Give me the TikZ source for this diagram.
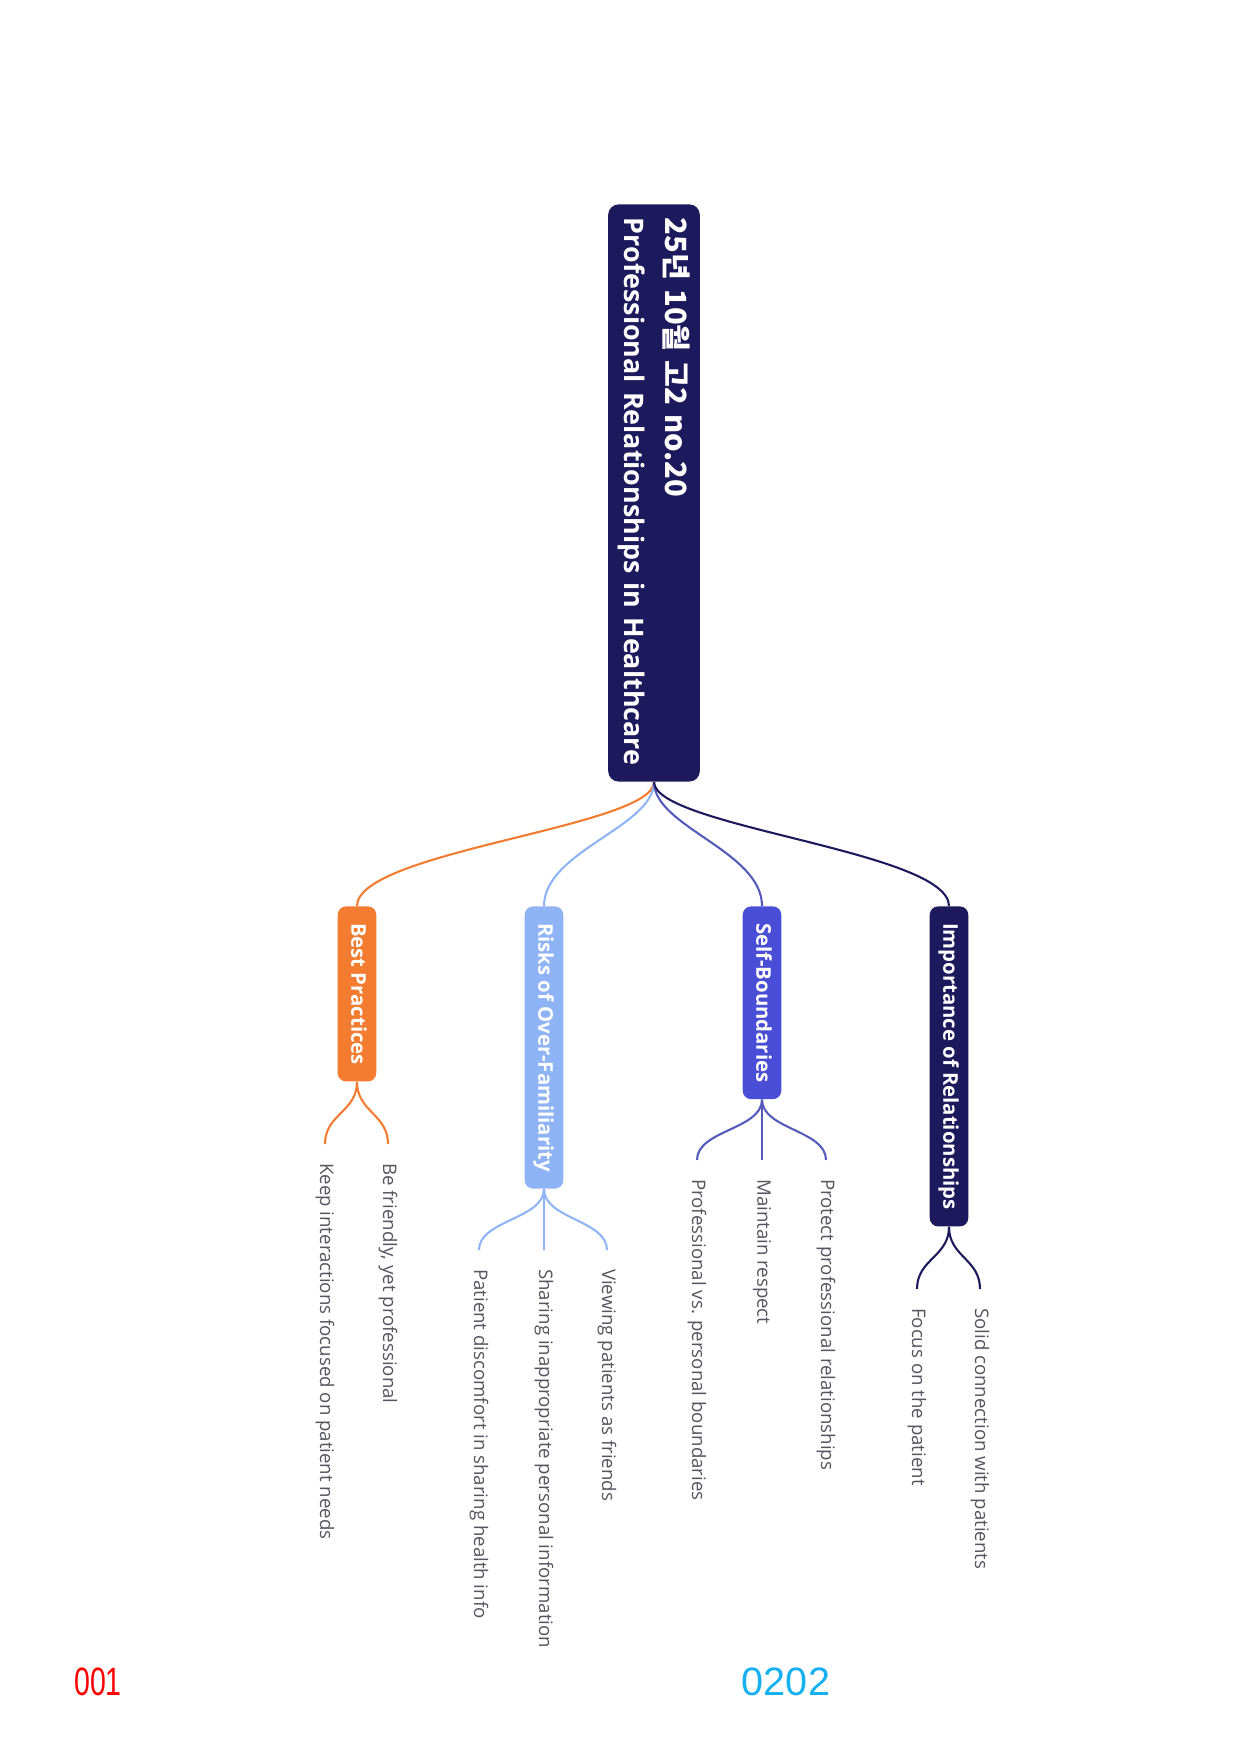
\documentclass[tikz,border=0pt]{standalone}
\usepackage{fontspec}
\setmainfont{Open Sans}
\newfontfamily\krfont{Noto Sans CJK KR}
\newfontfamily\tagfont{Liberation Sans}
\usepackage{tikz}
\usetikzlibrary{
  arrows.meta,
  positioning
}
\definecolor{mapnavy}{RGB}{28,26,92}
\definecolor{maporange}{RGB}{244,124,48}
\definecolor{mapsky}{RGB}{143,180,245}
\definecolor{mapblue}{RGB}{74,78,214}
\definecolor{mapblueline}{RGB}{84,90,186}
\definecolor{leafgray}{RGB}{85,85,95}
\definecolor{tagred}{RGB}{255,0,0}
\definecolor{tagcyan}{RGB}{20,176,240}

\tikzset{
  rootbox/.style={rotate=-90, anchor=west, fill=mapnavy, text=white,
    rounded corners=5pt, align=left, text width=264pt, inner xsep=6.5pt,
    minimum height=44pt, font=\bfseries\fontsize{12.9}{20}\selectfont},
  branchbox/.style={rotate=-90, anchor=west, fill=#1, text=white,
    rounded corners=4pt, minimum height=18.5pt, inner xsep=8pt,
    text height=7.3pt, text depth=2pt, font=\bfseries\fontsize{9.75}{11}\selectfont},
  leaf/.style={rotate=-90, anchor=west, text=leafgray, inner xsep=9pt,
    inner ysep=2pt, font=\fontsize{8.95}{10}\selectfont},
  link/.style={line width=1pt, draw=#1},
  tag/.style={font=\tagfont\fontsize{19}{22}\selectfont}
}

\begin{document}
\begin{tikzpicture}[x=0.48pt, y=-0.48pt]
  \useasboundingbox (0,0) rectangle (1241,1755);

  %% Central topic
  \node[rootbox] (root) at (654,204)
    {{\krfont\fontsize{14}{20}\selectfont 25년 10월 고2 no.20}\\Professional Relationships in Healthcare};

  %% Main branches
  \node[branchbox=maporange] (best) at (357,906) {Best Practices};
  \node[branchbox=mapsky] (risks) at (544,906) {Risks of Over-Familiarity};
  \node[branchbox=mapblue] (self) at (762,906) {Self-Boundaries};
  \node[branchbox=mapnavy] (importance) at (949,906) {Importance of Relationships};

  \draw[link=maporange] (root.east) .. controls +(0,45) and +(0,-55) .. (best.west);
  \draw[link=mapsky] (root.east) .. controls +(0,45) and +(0,-55) .. (risks.west);
  \draw[link=mapblueline] (root.east) .. controls +(0,45) and +(0,-55) .. (self.west);
  \draw[link=mapnavy] (root.east) .. controls +(0,45) and +(0,-55) .. (importance.west);

  %% Best Practices
  \node[leaf] (friendly) at (388,1144) {Be friendly, yet professional};
  \node[leaf] (needs) at (325,1144) {Keep interactions focused on patient needs};
  \draw[link=maporange] (best.east) .. controls +(0,30) and +(0,-30) .. (friendly.west);
  \draw[link=maporange] (best.east) .. controls +(0,30) and +(0,-30) .. (needs.west);

  %% Risks of Over-Familiarity
  \node[leaf] (friends) at (607,1250) {Viewing patients as friends};
  \node[leaf] (sharing) at (544,1250) {Sharing inappropriate personal information};
  \node[leaf] (discomfort) at (479,1250) {Patient discomfort in sharing health info};
  \draw[link=mapsky] (risks.east) .. controls +(0,30) and +(0,-30) .. (friends.west);
  \draw[link=mapsky] (risks.east) -- (sharing.west);
  \draw[link=mapsky] (risks.east) .. controls +(0,30) and +(0,-30) .. (discomfort.west);

  %% Self-Boundaries
  \node[leaf] (protect) at (826,1160) {Protect professional relationships};
  \node[leaf] (respect) at (762,1160) {Maintain respect};
  \node[leaf] (personal) at (697,1160) {Professional vs. personal boundaries};
  \draw[link=mapblueline] (self.east) .. controls +(0,30) and +(0,-30) .. (protect.west);
  \draw[link=mapblueline] (self.east) -- (respect.west);
  \draw[link=mapblueline] (self.east) .. controls +(0,30) and +(0,-30) .. (personal.west);

  %% Importance of Relationships
  \node[leaf] (solid) at (980,1289) {Solid connection with patients};
  \node[leaf] (focus) at (917,1289) {Focus on the patient};
  \draw[link=mapnavy] (importance.east) .. controls +(0,30) and +(0,-30) .. (solid.west);
  \draw[link=mapnavy] (importance.east) .. controls +(0,30) and +(0,-30) .. (focus.west);

  %% Page tags
  \node[tag, text=tagred, xscale=0.72] (pageno) at (98,1682) {001};
  \node[tag, text=tagcyan] (code) at (786,1682) {0202};

\end{tikzpicture}
\end{document}
